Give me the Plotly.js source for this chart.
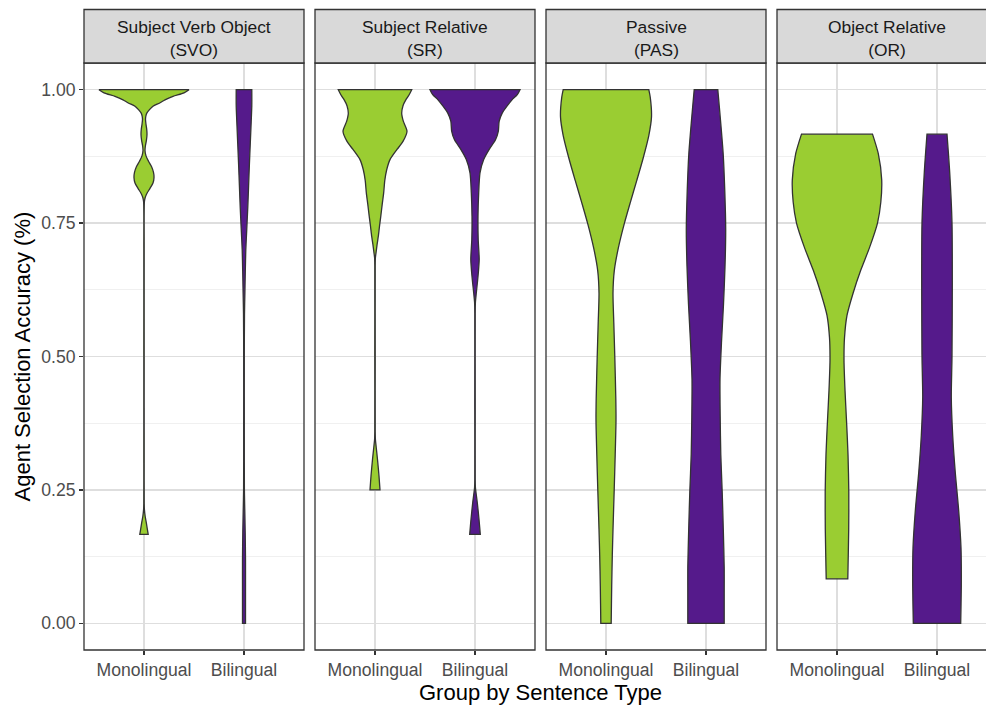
<!DOCTYPE html>
<html>
<head>
<meta charset="utf-8">
<script src="https://cdn.plot.ly/plotly-3.0.1.min.js"></script>
<style>
  html, body { margin: 0; padding: 0; overflow: hidden; background: #ffffff; }
</style>
</head>
<body>
<div id="chart"></div>
<script>
// ---- categories and labels ----
const groups = ['Monolingual', 'Bilingual'];
const sentenceTypes = ['Subject Verb Object', 'Subject Relative', 'Passive', 'Object Relative'];
const sentenceCodes = ['(SVO)', '(SR)', '(PAS)', '(OR)'];
const yTickVals = [0, 0.25, 0.5, 0.75, 1];
const yTickText = ['0.00', '0.25', '0.50', '0.75', '1.00'];

// ---- density outlines: accuracy level and violin half-width (share of group spacing) ----
// Subject Verb Object
const svoMonoY = [1.0, 0.994, 0.9875, 0.981, 0.975, 0.969, 0.9625, 0.956, 0.95, 0.944, 0.935, 0.926, 0.916, 0.905, 0.895, 0.886, 0.876, 0.866, 0.856, 0.845, 0.835, 0.825, 0.815, 0.806, 0.798, 0.79, 0.70, 0.50, 0.30, 0.225, 0.2135, 0.2, 0.1885, 0.1667];
const svoMonoW = [0.45, 0.40, 0.29, 0.21, 0.157, 0.09, 0.055, 0.028, 0.018, 0.015, 0.02, 0.027, 0.03, 0.024, 0.014, 0.01, 0.02, 0.045, 0.075, 0.095, 0.10, 0.09, 0.06, 0.03, 0.012, 0.004, 0.0015, 0.0015, 0.0015, 0.002, 0.004, 0.012, 0.023, 0.042];
const svoBiY = [1.0, 0.97, 0.94, 0.90, 0.86, 0.82, 0.78, 0.74, 0.70, 0.66, 0.62, 0.58, 0.50, 0.35, 0.25, 0.21, 0.17, 0.12, 0.06, 0.0];
const svoBiW = [0.078, 0.078, 0.072, 0.063, 0.054, 0.046, 0.038, 0.028, 0.018, 0.013, 0.009, 0.005, 0.003, 0.003, 0.004, 0.008, 0.012, 0.015, 0.015, 0.015];

// Subject Relative
const srMonoY = [1.0, 0.99, 0.981, 0.97, 0.956, 0.941, 0.922, 0.903, 0.888, 0.869, 0.85, 0.83, 0.807, 0.785, 0.763, 0.744, 0.725, 0.71, 0.697, 0.685, 0.67, 0.50, 0.36, 0.345, 0.33, 0.307, 0.276, 0.25];
const srMonoW = [0.367, 0.34, 0.308, 0.28, 0.267, 0.283, 0.32, 0.28, 0.22, 0.15, 0.117, 0.098, 0.087, 0.072, 0.058, 0.045, 0.033, 0.021, 0.012, 0.004, 0.002, 0.002, 0.002, 0.004, 0.012, 0.025, 0.04, 0.05];
const srBiY = [1.0, 0.9906, 0.981, 0.969, 0.956, 0.941, 0.922, 0.906, 0.888, 0.869, 0.844, 0.807, 0.763, 0.719, 0.682, 0.65, 0.619, 0.601, 0.58, 0.40, 0.27, 0.255, 0.226, 0.195, 0.1667];
const srBiW = [0.45, 0.423, 0.37, 0.32, 0.272, 0.242, 0.233, 0.205, 0.142, 0.087, 0.05, 0.037, 0.03, 0.032, 0.042, 0.03, 0.013, 0.004, 0.002, 0.002, 0.002, 0.004, 0.023, 0.04, 0.053];

// Passive
const pasMonoY = [1.0, 0.985, 0.949, 0.914, 0.872, 0.83, 0.788, 0.749, 0.703, 0.661, 0.619, 0.563, 0.499, 0.422, 0.38, 0.316, 0.25, 0.176, 0.127, 0.07, 0.0];
const pasMonoW = [0.428, 0.443, 0.455, 0.428, 0.372, 0.308, 0.242, 0.183, 0.123, 0.083, 0.07, 0.078, 0.088, 0.098, 0.10, 0.092, 0.082, 0.07, 0.063, 0.057, 0.052];
const pasBiY = [1.0, 0.949, 0.879, 0.809, 0.738, 0.668, 0.598, 0.527, 0.457, 0.387, 0.316, 0.246, 0.176, 0.105, 0.056, 0.0];
const pasBiW = [0.118, 0.142, 0.172, 0.188, 0.197, 0.19, 0.175, 0.155, 0.14, 0.142, 0.148, 0.162, 0.173, 0.182, 0.182, 0.182];

// Object Relative
const orMonoY = [0.9167, 0.88, 0.831, 0.789, 0.75, 0.704, 0.662, 0.62, 0.577, 0.535, 0.493, 0.437, 0.38, 0.317, 0.246, 0.176, 0.0833];
const orMonoW = [0.355, 0.413, 0.447, 0.438, 0.405, 0.325, 0.238, 0.163, 0.10, 0.075, 0.07, 0.08, 0.095, 0.11, 0.118, 0.117, 0.108];
const orBiY = [0.9167, 0.845, 0.75, 0.634, 0.5, 0.423, 0.352, 0.282, 0.211, 0.141, 0.07, 0.0];
const orBiW = [0.10, 0.127, 0.15, 0.153, 0.15, 0.143, 0.157, 0.183, 0.217, 0.24, 0.243, 0.237];

// ---- assemble violins ----
const groupColors = ['#9ACD32', '#551A8B'];
const violins = [
  { panel: 0, group: 0, y: svoMonoY, w: svoMonoW },
  { panel: 0, group: 1, y: svoBiY,   w: svoBiW },
  { panel: 1, group: 0, y: srMonoY,  w: srMonoW },
  { panel: 1, group: 1, y: srBiY,    w: srBiW },
  { panel: 2, group: 0, y: pasMonoY, w: pasMonoW },
  { panel: 2, group: 1, y: pasBiY,   w: pasBiW },
  { panel: 3, group: 0, y: orMonoY,  w: orMonoW },
  { panel: 3, group: 1, y: orBiY,    w: orBiW }
];

// One closed outline per violin: left side top→bottom, right side bottom→top.
// The flat ends repeat their corner points so the spline keeps them square.
function violinTrace(v) {
  const c = v.group + 1;  // category position on the panel axis
  const n = v.y.length;
  const left = v.y.map((yy, i) => c - v.w[i]);
  const right = v.y.map((yy, i) => c + v.w[i]);
  const xs = [], ys = [];
  for (let i = 0; i < n; i++) { xs.push(left[i]); ys.push(v.y[i]); }
  xs.push(left[n - 1]); ys.push(v.y[n - 1]);
  xs.push(right[n - 1]); ys.push(v.y[n - 1]);
  for (let i = n - 1; i >= 0; i--) { xs.push(right[i]); ys.push(v.y[i]); }
  xs.push(right[0]); ys.push(v.y[0]);
  xs.push(left[0]); ys.push(v.y[0]);
  xs.push(left[0]); ys.push(v.y[0]);
  return {
    type: 'scatter', mode: 'lines',
    x: xs, y: ys,
    xaxis: v.panel === 0 ? 'x' : 'x' + (v.panel + 1),
    yaxis: 'y',
    fill: 'toself',
    fillcolor: groupColors[v.group],
    line: { color: '#333333', width: 1.3, shape: 'spline', smoothing: 0.7 },
    hoverinfo: 'skip', showlegend: false
  };
}
const traces = violins.map(violinTrace);

// ---- layout ----
const W = 998, H = 709;
const M = { l: 84, r: 1, t: 63, b: 59 };
const plotW = W - M.l - M.r, plotH = H - M.t - M.b;
const panelW = 220, panelStep = 231;
const stripH = 53.5;

const font = 'Liberation Sans, Arial, sans-serif';
const layout = {
  width: W, height: H, margin: M,
  paper_bgcolor: '#ffffff', plot_bgcolor: '#ffffff',
  font: { family: font },
  showlegend: false,
  shapes: [], annotations: [],
  yaxis: {
    domain: [0, 1], anchor: 'x',
    range: [-0.05, 1.05],
    tickmode: 'array', tickvals: yTickVals, ticktext: yTickText,
    tickfont: { family: font, size: 17.6, color: '#4D4D4D' },
    ticks: 'outside', ticklen: 4, tickwidth: 1.3, tickcolor: '#333333',
    showgrid: true, gridcolor: '#DEDEDE', gridwidth: 1.6,
    minor: { tickvals: [0.125, 0.375, 0.625, 0.875], showgrid: true, gridcolor: '#F0F0F0', gridwidth: 1, ticks: '' },
    zeroline: false, showline: false,
    fixedrange: true
  }
};

sentenceTypes.forEach((name, i) => {
  const d0 = (i * panelStep) / plotW;
  const d1 = (i * panelStep + panelW) / plotW;
  const key = i === 0 ? 'xaxis' : 'xaxis' + (i + 1);
  layout[key] = {
    domain: [d0, d1], anchor: 'y',
    range: [0.4, 2.6],
    tickmode: 'array', tickvals: [1, 2], ticktext: groups,
    tickfont: { family: font, size: 17.6, color: '#4D4D4D' },
    ticks: 'outside', ticklen: 4, tickwidth: 1.3, tickcolor: '#333333',
    showgrid: true, gridcolor: '#DEDEDE', gridwidth: 1.6,
    zeroline: false, showline: false,
    fixedrange: true
  };
  // panel border
  layout.shapes.push({
    type: 'rect', xref: 'paper', yref: 'paper', layer: 'above',
    x0: d0, x1: d1, y0: 0, y1: 1,
    line: { color: '#333333', width: 1.3 }
  });
  // facet strip
  layout.shapes.push({
    type: 'rect', xref: 'paper', yref: 'paper', layer: 'above',
    x0: d0, x1: d1, y0: 1, y1: 1 + stripH / plotH,
    fillcolor: '#D9D9D9', line: { color: '#333333', width: 1.3 }
  });
  layout.annotations.push({
    xref: 'paper', yref: 'paper', x: (d0 + d1) / 2, y: 1 + 24.5 / plotH,
    text: name + '<br>' + sentenceCodes[i], showarrow: false,
    xanchor: 'center', yanchor: 'middle',
    font: { family: font, size: 17.4, color: '#1A1A1A' }
  });
});

// axis titles
layout.annotations.push({
  xref: 'paper', yref: 'paper', x: 0.5, y: -42 / plotH,
  text: 'Group by Sentence Type', showarrow: false,
  xanchor: 'center', yanchor: 'middle',
  font: { family: font, size: 22, color: '#000000' }
});
layout.annotations.push({
  xref: 'paper', yref: 'paper', x: -62 / plotW, y: 0.5,
  text: 'Agent Selection Accuracy (%)', showarrow: false, textangle: -90,
  xanchor: 'center', yanchor: 'middle',
  font: { family: font, size: 22, color: '#000000' }
});

Plotly.newPlot('chart', traces, layout, { displayModeBar: false, staticPlot: true });
</script>
</body>
</html>
